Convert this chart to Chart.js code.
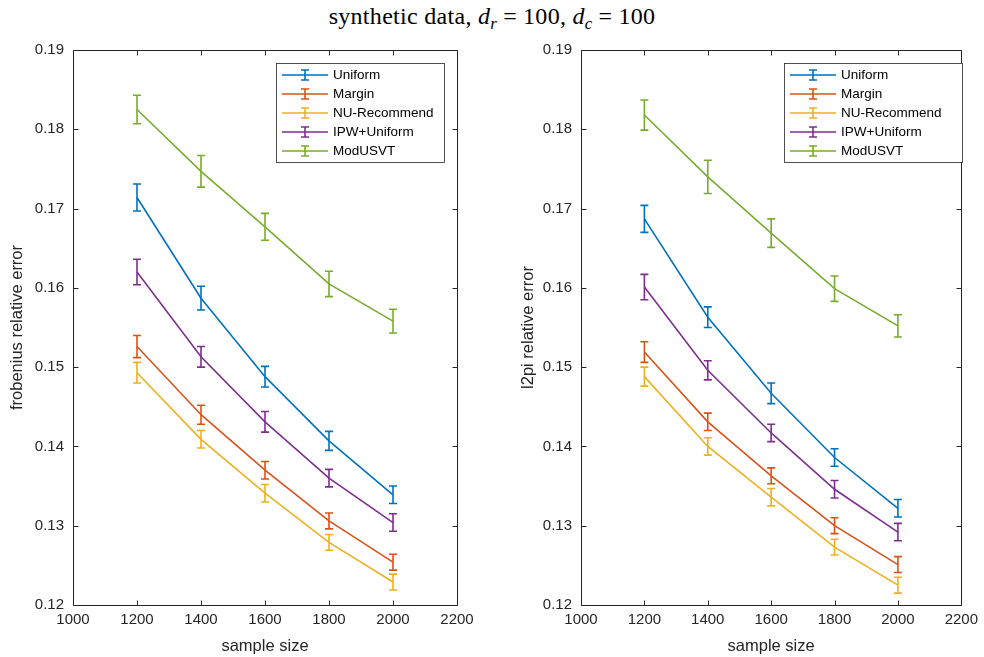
<!DOCTYPE html>
<html>
<head>
<meta charset="utf-8">
<script src="https://cdn.jsdelivr.net/npm/chart.js@4.4.0/dist/chart.umd.min.js"></script>
<style>
  body { margin: 0; background: #fff; }
  #page { position: relative; width: 984px; height: 657px; overflow: hidden; background: #fff; }
  #title { position: absolute; left: 0; top: 3px; width: 984px; text-align: center;
           font-family: 'Liberation Serif', 'DejaVu Serif', serif; font-size: 24px; color: #000;
           letter-spacing: 0.3px; }
  #title sub { font-size: 0.7em; vertical-align: -0.3em; line-height: 0; }
  #title .eq { padding: 0 6px; }
  .panel { position: absolute; top: 0; width: 492px; height: 657px; }
</style>
</head>
<body>
<div id="page">
  <div id="title">synthetic data, <i>d<sub>r</sub></i><span class="eq">=</span>100, <i>d<sub>c</sub></i><span class="eq">=</span>100</div>
  <div class="panel" style="left:0"><canvas id="leftChart"></canvas></div>
  <div class="panel" style="left:492px"><canvas id="rightChart"></canvas></div>
</div>
<script>
// x values and series names
const sampleSizes = [1200, 1400, 1600, 1800, 2000];
const seriesNames = ['Uniform', 'Margin', 'NU-Recommend', 'IPW+Uniform', 'ModUSVT'];
const seriesColors = ['#0072BD', '#D95319', '#EDB120', '#7E2F8E', '#77AC30'];

// frobenius relative error (left panel), mean and half-length of error bar
const froUniform = [0.1714, 0.1587, 0.1488, 0.1407, 0.1339];
const froUniformErr = [0.0017, 0.0015, 0.0013, 0.0012, 0.0011];
const froMargin = [0.1526, 0.1440, 0.1370, 0.1306, 0.1254];
const froMarginErr = [0.0014, 0.0012, 0.0011, 0.0010, 0.0010];
const froNU = [0.1493, 0.1409, 0.1341, 0.1279, 0.1229];
const froNUErr = [0.0013, 0.0011, 0.0011, 0.0010, 0.0010];
const froIPW = [0.1620, 0.1513, 0.1431, 0.1360, 0.1304];
const froIPWErr = [0.0016, 0.0013, 0.0013, 0.0011, 0.0011];
const froModUSVT = [0.1825, 0.1747, 0.1677, 0.1605, 0.1558];
const froModUSVTErr = [0.0018, 0.0020, 0.0017, 0.0016, 0.0015];

// l2pi relative error (right panel)
const l2Uniform = [0.1687, 0.1563, 0.1467, 0.1386, 0.1322];
const l2UniformErr = [0.0017, 0.0013, 0.0013, 0.0011, 0.0011];
const l2Margin = [0.1519, 0.1431, 0.1363, 0.1300, 0.1251];
const l2MarginErr = [0.0013, 0.0011, 0.0010, 0.0010, 0.0010];
const l2NU = [0.1488, 0.1400, 0.1336, 0.1273, 0.1225];
const l2NUErr = [0.0012, 0.0011, 0.0011, 0.0010, 0.0010];
const l2IPW = [0.1601, 0.1496, 0.1417, 0.1346, 0.1292];
const l2IPWErr = [0.0016, 0.0012, 0.0011, 0.0011, 0.0011];
const l2ModUSVT = [0.1818, 0.1740, 0.1669, 0.1599, 0.1552];
const l2ModUSVTErr = [0.0019, 0.0021, 0.0018, 0.0016, 0.0014];

// axis ranges
const xMin = 1000, xMax = 2200, xStep = 200;
const yMin = 0.12, yMax = 0.19, yStep = 0.01;

const AXIS_COLOR = '#262626';
const SANS = "'Liberation Sans', Arial, Helvetica, sans-serif";

// draw error bars (vertical line + caps) for every point
const errorBarPlugin = {
    id: 'errorBars',
    afterDatasetsDraw(chart) {
        const ctx = chart.ctx;
        const xs = chart.scales.x, ys = chart.scales.y;
        chart.data.datasets.forEach(ds => {
            ctx.save();
            ctx.strokeStyle = ds.borderColor;
            ctx.lineWidth = 1.6;
            ds.data.forEach((pt, i) => {
                const e = ds.errors[i];
                const px = xs.getPixelForValue(pt.x);
                const top = ys.getPixelForValue(pt.y + e);
                const bot = ys.getPixelForValue(pt.y - e);
                ctx.beginPath();
                ctx.moveTo(px, top); ctx.lineTo(px, bot);
                ctx.moveTo(px - 4, top); ctx.lineTo(px + 4, top);
                ctx.moveTo(px - 4, bot); ctx.lineTo(px + 4, bot);
                ctx.stroke();
            });
            ctx.restore();
        });
    }
};

// MATLAB style box with inward ticks on all four sides
const boxPlugin = {
    id: 'matlabBox',
    afterDatasetsDraw(chart) {
        const ctx = chart.ctx;
        const a = chart.chartArea;
        const xs = chart.scales.x, ys = chart.scales.y;
        const L = Math.round(a.left) + 0.5, R = Math.round(a.right) + 0.5;
        const T = Math.round(a.top) + 0.5, B = Math.round(a.bottom) + 0.5;
        ctx.save();
        ctx.strokeStyle = AXIS_COLOR;
        ctx.lineWidth = 1;
        ctx.beginPath();
        ctx.rect(L, T, R - L, B - T);
        xs.ticks.forEach(t => {
            const px = Math.round(xs.getPixelForValue(t.value)) + 0.5;
            ctx.moveTo(px, B); ctx.lineTo(px, B - 5);
            ctx.moveTo(px, T); ctx.lineTo(px, T + 5);
        });
        ys.ticks.forEach(t => {
            const py = Math.round(ys.getPixelForValue(t.value)) + 0.5;
            ctx.moveTo(L, py); ctx.lineTo(L + 5, py);
            ctx.moveTo(R, py); ctx.lineTo(R - 5, py);
        });
        ctx.stroke();
        ctx.restore();
    }
};

// legend box in the upper right of the axes
const legendPlugin = {
    id: 'matlabLegend',
    afterDraw(chart, args, opts) {
        const ctx = chart.ctx;
        const left = opts.left, top = opts.top, w = opts.width, h = 99;
        ctx.save();
        ctx.fillStyle = '#fff';
        ctx.fillRect(left, top, w, h);
        ctx.strokeStyle = AXIS_COLOR;
        ctx.lineWidth = 0.8;
        ctx.strokeRect(left + 0.5, top + 0.5, w, h);
        ctx.font = '13.5px ' + SANS;
        ctx.textBaseline = 'middle';
        ctx.textAlign = 'left';
        chart.data.datasets.forEach((ds, i) => {
            const y = top + 12 + i * 19;
            const x0 = left + 6, x1 = left + 52, xc = (x0 + x1) / 2;
            ctx.strokeStyle = ds.borderColor;
            ctx.lineWidth = 1.6;
            ctx.beginPath();
            ctx.moveTo(x0, y); ctx.lineTo(x1, y);
            ctx.moveTo(xc, y - 5); ctx.lineTo(xc, y + 5);
            ctx.moveTo(xc - 4, y - 5); ctx.lineTo(xc + 4, y - 5);
            ctx.moveTo(xc - 4, y + 5); ctx.lineTo(xc + 4, y + 5);
            ctx.stroke();
            ctx.fillStyle = '#000';
            ctx.fillText(ds.label, x1 + 5, y + 0.5);
        });
        ctx.restore();
    }
};

function buildDatasets(means, errs) {
    return means.map((m, k) => ({
        label: seriesNames[k],
        data: m.map((v, i) => ({ x: sampleSizes[i], y: v })),
        errors: errs[k],
        borderColor: seriesColors[k],
        backgroundColor: seriesColors[k],
        borderWidth: 1.6,
        pointRadius: 0,
        tension: 0,
        fill: false
    }));
}

function createPanel(canvasId, yTitle, means, errs, layout) {
    const ctx = document.getElementById(canvasId).getContext('2d');
    return new Chart(ctx, {
        type: 'line',
        data: { datasets: buildDatasets(means, errs) },
        plugins: [errorBarPlugin, boxPlugin, legendPlugin],
        options: {
            responsive: true,
            maintainAspectRatio: false,
            animation: false,
            layout: { padding: { left: 0, top: 50, right: layout.padRight, bottom: 0 } },
            plugins: {
                legend: { display: false },
                tooltip: { enabled: false },
                matlabLegend: layout.legend
            },
            scales: {
                x: {
                    type: 'linear',
                    min: xMin, max: xMax,
                    grid: { display: false, drawTicks: false },
                    border: { display: false },
                    ticks: { stepSize: xStep, color: AXIS_COLOR, padding: 6,
                             font: { family: SANS, size: 15 }, maxRotation: 0,
                             callback: v => String(v) },
                    title: { display: true, text: 'sample size', color: AXIS_COLOR,
                             font: { family: SANS, size: 16.5 }, padding: { top: 0, bottom: 1 } },
                    afterFit: s => { s.height = 52; }
                },
                y: {
                    min: yMin, max: yMax,
                    grid: { display: false, drawTicks: false },
                    border: { display: false },
                    ticks: { stepSize: yStep, color: AXIS_COLOR, padding: 9,
                             font: { family: SANS, size: 15 },
                             callback: v => v.toFixed(2) },
                    title: { display: true, text: yTitle, color: AXIS_COLOR,
                             font: { family: SANS, size: 16.5 }, padding: { top: layout.titlePad, bottom: 0 } },
                    afterFit: s => { s.width = layout.yWidth; }
                }
            }
        }
    });
}

createPanel('leftChart', 'frobenius relative error',
    [froUniform, froMargin, froNU, froIPW, froModUSVT],
    [froUniformErr, froMarginErr, froNUErr, froIPWErr, froModUSVTErr],
    { padRight: 35, yWidth: 73, titlePad: 7.5, legend: { left: 276, top: 63, width: 168 } });

createPanel('rightChart', 'l2pi relative error',
    [l2Uniform, l2Margin, l2NU, l2IPW, l2ModUSVT],
    [l2UniformErr, l2MarginErr, l2NUErr, l2IPWErr, l2ModUSVTErr],
    { padRight: 18, yWidth: 89, titlePad: 26.5, legend: { left: 292, top: 63, width: 178 } });
</script>
</body>
</html>
